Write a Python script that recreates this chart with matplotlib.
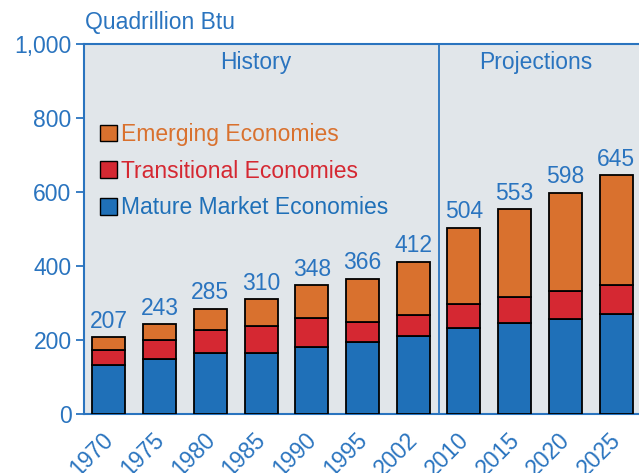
import matplotlib.pyplot as plt
import matplotlib.transforms as mtrans
import numpy as np
from matplotlib.patches import Patch

plt.rcParams['font.family'] = ['Liberation Sans', 'DejaVu Sans']

years = ['1970', '1975', '1980', '1985', '1990', '1995', '2002',
         '2010', '2015', '2020', '2025']
mature = [132, 149, 165, 165, 182, 195, 212, 233, 247, 257, 271]
transitional = [41, 50, 63, 74, 77, 54, 55, 64, 69, 75, 79]
emerging = [34, 44, 57, 71, 89, 117, 145, 207, 237, 266, 295]
totals = [207, 243, 285, 310, 348, 366, 412, 504, 553, 598, 645]

blue = '#1f70b8'
red = '#d52832'
orange = '#d9712e'
txt = '#2a74bf'
bg = '#e1e6ea'
fs = 16.5

fig = plt.figure(figsize=(6.39, 4.73), dpi=100)
ax = fig.add_axes([0.1315, 0.1247, 0.8685, 0.7822])
ax.set_facecolor(bg)

x = np.arange(len(years))
w = 0.65
m = np.array(mature)
t = np.array(transitional)
e = np.array(emerging)
ax.bar(x, m, w, color=blue, edgecolor='black', linewidth=1.3, zorder=3)
ax.bar(x, t, w, bottom=m, color=red, edgecolor='black', linewidth=1.3, zorder=3)
ax.bar(x, e, w, bottom=m + t, color=orange, edgecolor='black', linewidth=1.3, zorder=3)

for xi, tot in zip(x, totals):
    ax.text(xi, tot + 12, str(tot), ha='center', va='bottom', color=txt, fontsize=fs)

ax.axvline(6.5, color=txt, lw=1.3, zorder=2)
ax.text(2.9, 950, 'History', ha='center', va='center', color=txt, fontsize=fs)
ax.text(8.42, 950, 'Projections', ha='center', va='center', color=txt, fontsize=fs)

ax.set_xlim(-0.49, 10.45)
ax.set_ylim(0, 1000)
ax.set_yticks([0, 200, 400, 600, 800, 1000])
ax.set_yticklabels(['0', '200', '400', '600', '800', '1,000'])
ax.set_xticks(x)
ax.set_xticklabels(years, rotation=45, ha='right', rotation_mode='anchor')
ax.tick_params(axis='y', colors=txt, labelsize=fs, length=6, width=1.3, direction='out', pad=3)
ax.tick_params(axis='x', colors=txt, labelsize=fs, length=0, pad=10)
shift = mtrans.ScaledTranslation(-7 / 100, 0, fig.dpi_scale_trans)
for lab in ax.get_xticklabels():
    lab.set_transform(lab.get_transform() + shift)
for s in ['left', 'bottom', 'top']:
    ax.spines[s].set_color(txt)
    ax.spines[s].set_linewidth(1.5)
ax.spines['right'].set_visible(False)

handles = [Patch(facecolor=orange, edgecolor='black'),
           Patch(facecolor=red, edgecolor='black'),
           Patch(facecolor=blue, edgecolor='black')]
labels = ['Emerging Economies', 'Transitional Economies', 'Mature Market Economies']
leg = ax.legend(handles, labels, loc='upper left', bbox_to_anchor=(0.0, 0.83),
                frameon=False, fontsize=fs, handlelength=0.75, handleheight=0.75,
                handletextpad=0.15, labelspacing=0.6, borderaxespad=0.3,
                labelcolor=[orange, red, blue])

fig.text(0.133, 0.953, 'Quadrillion Btu', color=txt, fontsize=fs, ha='left', va='center')

fig.savefig('out.png', dpi=100)
